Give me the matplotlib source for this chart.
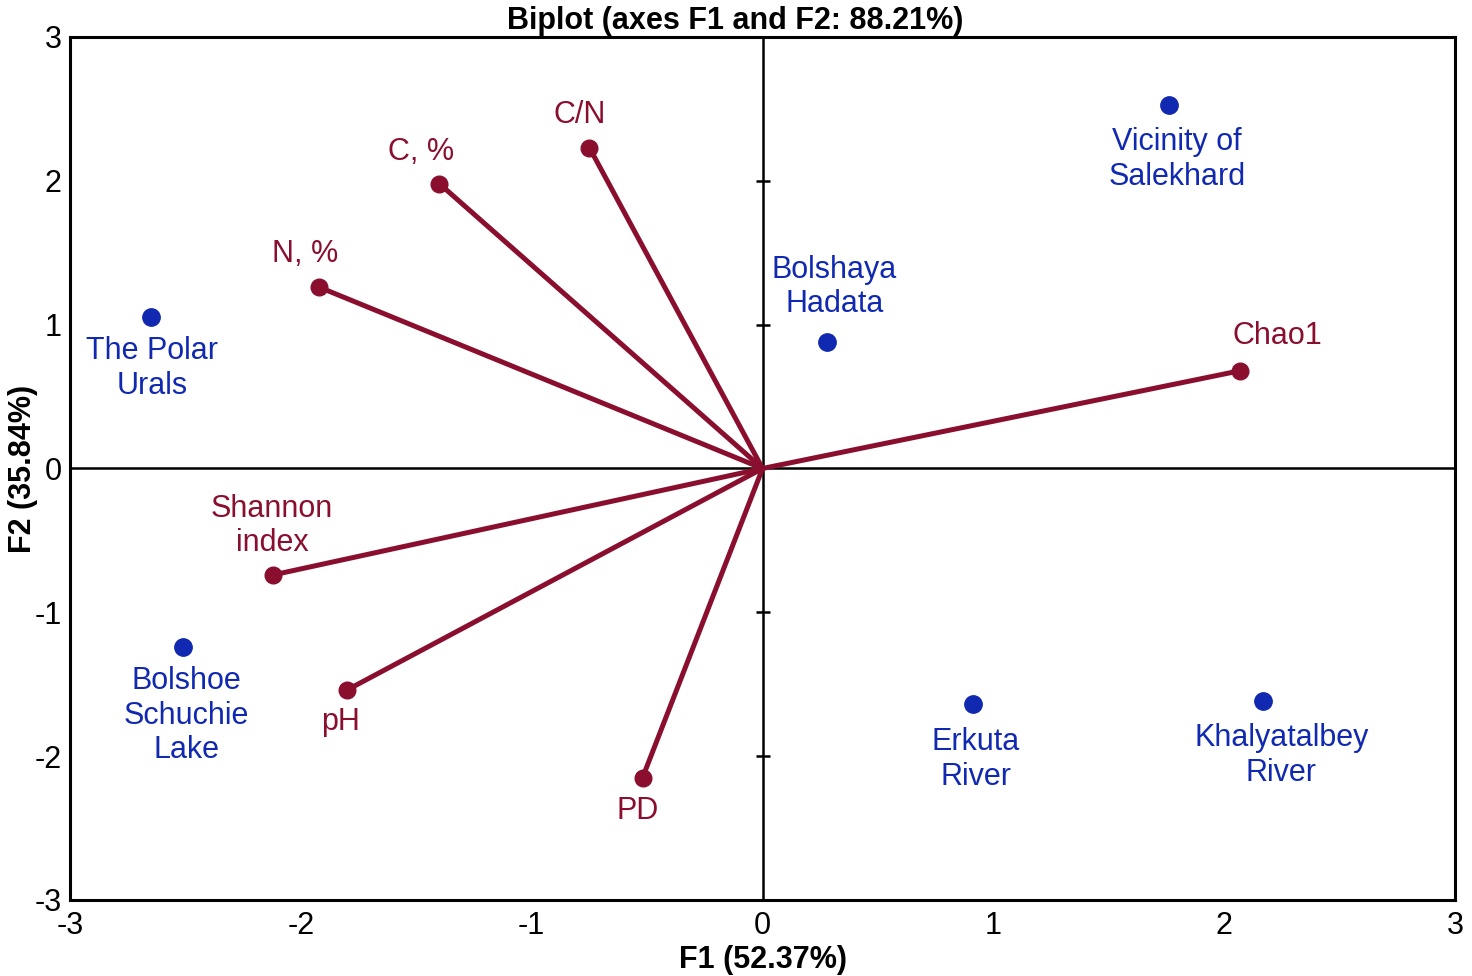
import matplotlib
matplotlib.use("Agg")
import matplotlib.pyplot as plt
import numpy as np

plt.rcParams['font.family'] = ['Liberation Sans', 'DejaVu Sans']
plt.rcParams['axes.unicode_minus'] = False

#Observations (sites) on F1/F2
siteNames = ['The Polar\nUrals', 'Bolshoe\nSchuchie\nLake', 'Bolshaya\nHadata',
             'Vicinity of\nSalekhard', 'Erkuta\nRiver', 'Khalyatalbey\nRiver']
siteF1 = [-2.65, -2.51, 0.28, 1.76, 0.91, 2.17]
siteF2 = [1.05, -1.24, 0.88, 2.53, -1.64, -1.62]

#Variables (vectors from origin)
varNames = ['C, %', 'C/N', 'N, %', 'Chao1', 'Shannon\nindex', 'pH', 'PD']
varF1 = [-1.40, -0.75, -1.92, 2.07, -2.12, -1.80, -0.52]
varF2 = [1.98, 2.23, 1.26, 0.68, -0.74, -1.54, -2.15]

#Label offsets in pixels (dx, dy) from the point
siteOffsets = [(1, -51), (3, -69), (7, 55), (8, -55), (3, -55), (18, -54)]
varOffsets = [(-18, 32), (-10, 33), (-14, 33), (37, 35), (-1, 49), (-7, -32), (-5, -33)]

BLUE = '#1029b0'
RED = '#8a0f2e'
PX = 0.72  #pixels to points at dpi 100
FS = 22

fig = plt.figure(figsize=(14.72, 9.76), dpi=100)
ax = fig.add_axes([0.0476, 0.0779, 0.9409, 0.8842])
ax.set_xlim(-3, 3)
ax.set_ylim(-3, 3)

#Center lines
ax.axhline(0, color='black', lw=1.8, zorder=1)
ax.axvline(0, color='black', lw=1.8, zorder=1)
yt = [t for t in np.arange(-3, 4) if t != 0]
ax.plot(np.zeros(len(yt)), yt, linestyle='none', marker='_', ms=10,
        mew=1.8, color='black', zorder=1)

#Vectors
for i in range(len(varNames)):
    ax.plot([0, varF1[i]], [0, varF2[i]], color=RED, lw=3.6,
            solid_capstyle='round', zorder=2)
ax.plot(varF1, varF2, 'o', color=RED, ms=12, zorder=3)
for i in range(len(varNames)):
    dx, dy = varOffsets[i]
    ax.annotate(varNames[i], (varF1[i], varF2[i]), xytext=(dx*PX, dy*PX),
                textcoords='offset points', ha='center', va='center',
                color=RED, fontsize=FS)

#Sites
ax.plot(siteF1, siteF2, 'o', color=BLUE, ms=12.5, zorder=3)
for i in range(len(siteNames)):
    dx, dy = siteOffsets[i]
    ax.annotate(siteNames[i], (siteF1[i], siteF2[i]), xytext=(dx*PX, dy*PX),
                textcoords='offset points', ha='center', va='center',
                color=BLUE, fontsize=FS)

#Axes formatting
for s in ax.spines.values():
    s.set_linewidth(2.2)
ax.set_xticks(np.arange(-3, 4))
ax.set_yticks(np.arange(-3, 4))
ax.tick_params(length=0, labelsize=FS, pad=6)
ax.tick_params(axis='x', pad=8)
ax.set_xlabel('F1 (52.37%)', fontsize=FS, fontweight='bold')
ax.set_ylabel('F2 (35.84%)', fontsize=FS, fontweight='bold')
ax.xaxis.set_label_coords(0.5, -0.052)
ax.yaxis.set_label_coords(-0.023, 0.5)
ax.set_title('Biplot (axes F1 and F2: 88.21%)', fontsize=FS,
             fontweight='bold', pad=6, x=0.48)

fig.savefig('out.png', dpi=100)
